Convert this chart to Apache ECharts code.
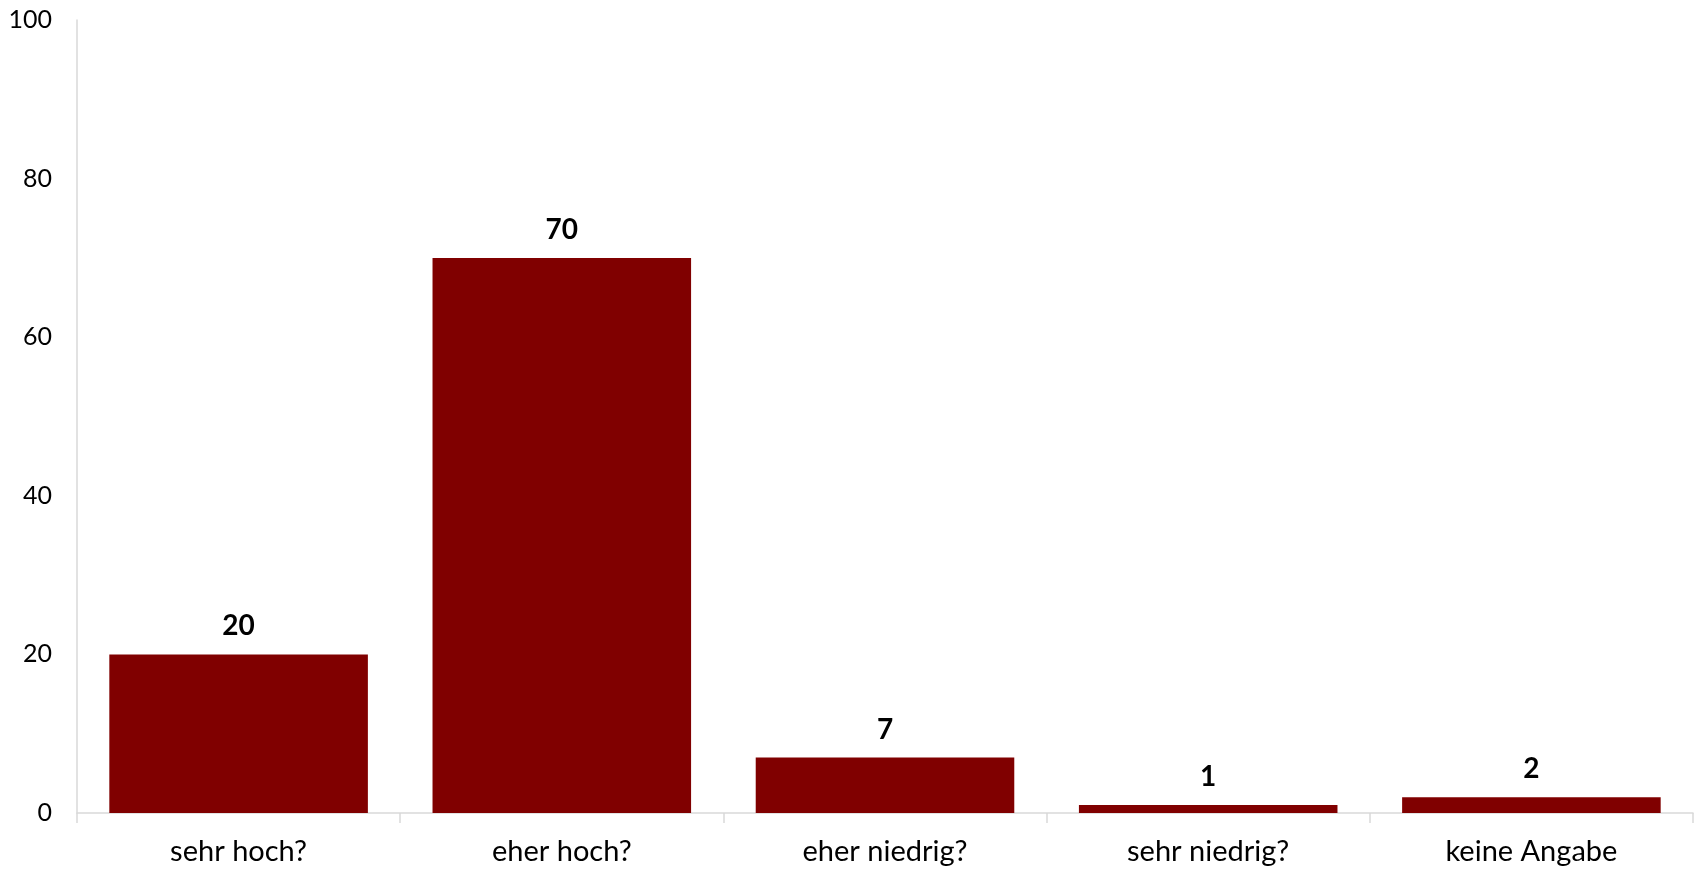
<!DOCTYPE html>
<html><head><meta charset="utf-8">
<script src="https://cdn.jsdelivr.net/npm/echarts@6/dist/echarts.min.js"></script>
<style>html,body{margin:0;padding:0;background:#fff}#c{width:1696px;height:870px}</style>
</head><body><div id="c"></div>
<script>
const categories = ['sehr hoch?', 'eher hoch?', 'eher niedrig?', 'sehr niedrig?', 'keine Angabe'];
const values = [20, 70, 7, 1, 2];
const yTicks = [0, 20, 40, 60, 80, 100];

const font = 'Lato, "Open Sans", sans-serif';
const chart = echarts.init(document.getElementById('c'));
chart.setOption({
  animation: false,
  grid: { left: 77, right: 3, top: 20, bottom: 57, containLabel: false },
  xAxis: {
    type: 'category',
    data: categories,
    axisLine: { show: true, lineStyle: { color: '#d9d9d9', width: 1.5 } },
    axisTick: { show: true, length: 10, alignWithLabel: false, lineStyle: { color: '#d9d9d9', width: 1.5 } },
    axisLabel: { color: '#000', fontSize: 29, fontFamily: font, margin: 24 }
  },
  yAxis: {
    type: 'value',
    min: yTicks[0], max: yTicks[yTicks.length - 1], interval: 20,
    axisLine: { show: true, lineStyle: { color: '#d9d9d9', width: 1.5 } },
    axisTick: { show: false },
    splitLine: { show: false },
    axisLabel: { color: '#000', fontSize: 25, fontFamily: font, margin: 25 }
  },
  series: [{
    type: 'bar',
    data: values,
    barCategoryGap: '20%',
    itemStyle: { color: '#800000' },
    label: { show: true, position: 'top', distance: 14, color: '#000', fontSize: 28, fontWeight: 'bold', fontFamily: font }
  }]
});
</script></body></html>
